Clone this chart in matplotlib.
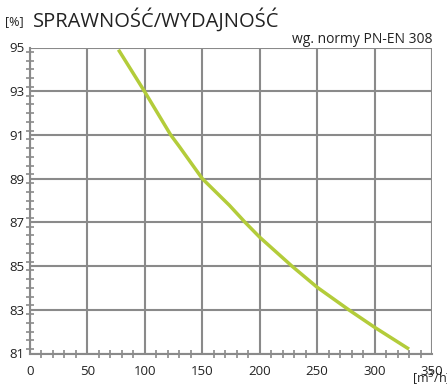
import numpy as np
import matplotlib.pyplot as plt
from matplotlib.ticker import MultipleLocator

# Dane
przeplyw = [77, 99.6, 122.5, 130, 150, 173.6, 187.3, 200, 228, 250, 277.5, 300, 330]
sprawnosc = [94.9, 93, 91, 90.47, 89, 87.78, 87, 86.32, 85, 84.03, 83, 82.2, 81.2]

x_ticks = [0, 50, 100, 150, 200, 250, 300, 350]
y_ticks = [81, 83, 85, 87, 89, 91, 93, 95]

plt.rcParams['font.family'] = ['Open Sans', 'DejaVu Sans']

fig = plt.figure(figsize=(4.47, 3.85), dpi=100)
ax = fig.add_axes([30/447, 1 - 353.5/385, 402/447, 306/385])

ax.plot(przeplyw, sprawnosc, color='#b3cc3a', linewidth=2.5, solid_capstyle='butt', zorder=3)

ax.set_xlim(0, 350)
ax.set_ylim(81, 95)
ax.set_xticks(x_ticks)
ax.set_yticks(y_ticks)
ax.xaxis.set_minor_locator(MultipleLocator(10))
ax.yaxis.set_minor_locator(MultipleLocator(0.4))

ax.grid(True, which='major', color='#8a8a8a', linewidth=1.5)
for s in ['top', 'right']:
    ax.spines[s].set_visible(False)
for s in ['left', 'bottom']:
    ax.spines[s].set_color('#8a8a8a')
    ax.spines[s].set_linewidth(1.5)

ax.tick_params(which='major', length=0, labelsize=9.5, colors='#222222')
ax.tick_params(which='minor', direction='inout', length=6, width=1.2, color='#8a8a8a')
ax.tick_params(axis='y', which='major', pad=4)
ax.tick_params(axis='x', which='major', pad=8)

fig.text(5/447, 1 - 25/385, '[%]', fontsize=9, color='#222222', va='baseline')
fig.text(33/447, 1 - 27/385, 'SPRAWNOŚĆ/WYDAJNOŚĆ', fontsize=14.5, color='#222222', va='baseline')
fig.text(432/447, 1 - 43/385, 'wg. normy PN-EN 308', fontsize=10, color='#222222', ha='right', va='baseline')
fig.text(412/447, 1 - 383/385, '[m$^3$/h]', fontsize=9, color='#222222', va='baseline')

plt.savefig('out.png', dpi=100)
